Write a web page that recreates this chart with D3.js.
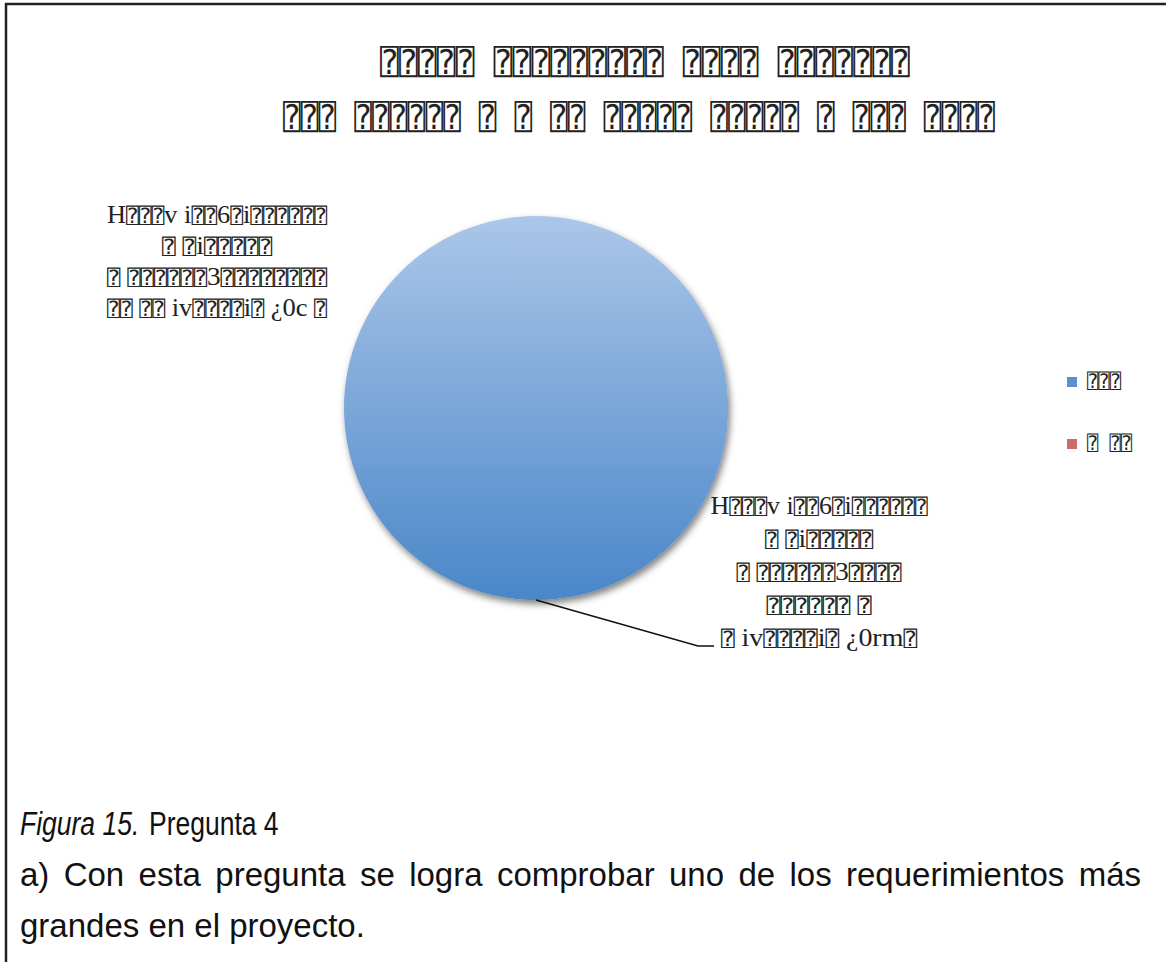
<!DOCTYPE html>
<html><head><meta charset="utf-8">
<script src="https://cdn.jsdelivr.net/npm/d3@7"></script>
<style>
html,body{margin:0;padding:0;background:#fff;}
svg{display:block;}
</style></head>
<body>
<svg id="chart" width="1166" height="962"></svg>
<script>
// ---- data ----
const categories = ["⍰⍰⍰", "⍰ ⍰⍰"];
const values = [40, 0];
const colors = ["#4F81BD", "#C0504D"];
const titleLines = [
  "⍰⍰⍰⍰⍰ ⍰⍰⍰⍰⍰⍰⍰⍰⍰ ⍰⍰⍰⍰  ⍰⍰⍰⍰⍰⍰⍰",
  "⍰⍰⍰ ⍰⍰⍰⍰⍰⍰  ⍰ ⍰ ⍰⍰ ⍰⍰⍰⍰⍰ ⍰⍰⍰⍰⍰ ⍰ ⍰⍰⍰ ⍰⍰⍰⍰"
];
const labelLinesNO = [
  "H⍰⍰⍰v  i⍰⍰6⍰i⍰⍰⍰⍰⍰⍰",
  "⍰ ⍰i⍰⍰⍰⍰⍰",
  "⍰ ⍰⍰⍰⍰⍰⍰3⍰⍰⍰⍰⍰⍰⍰⍰",
  "⍰⍰ ⍰⍰ iv⍰⍰⍰⍰i⍰ ¿0c ⍰"
];
const labelLinesSI = [
  "H⍰⍰⍰v  i⍰⍰6⍰i⍰⍰⍰⍰⍰⍰",
  "⍰ ⍰i⍰⍰⍰⍰⍰",
  "⍰ ⍰⍰⍰⍰⍰⍰3⍰⍰⍰⍰",
  "⍰⍰⍰⍰⍰⍰ ⍰",
  "⍰ iv⍰⍰⍰⍰i⍰ ¿0rm⍰"
];
const captionItalic = "Figura 15.";
const captionRest = "Pregunta 4";
const paragraphLine1 = "a) Con esta pregunta se logra comprobar uno de los requerimientos más";
const paragraphLine2 = "grandes en el proyecto.";

// ---- drawing ----
const svg = d3.select("#chart");
const defs = svg.append("defs");
const grad = defs.append("linearGradient").attr("id","blueGrad")
  .attr("x1",0).attr("y1",0).attr("x2",0).attr("y2",1);
grad.append("stop").attr("offset","0%").attr("stop-color","#abc6e8");
grad.append("stop").attr("offset","100%").attr("stop-color","#4a87c9");
const gradR = defs.append("linearGradient").attr("id","redGrad")
  .attr("x1",0).attr("y1",0).attr("x2",0).attr("y2",1);
gradR.append("stop").attr("offset","0%").attr("stop-color","#e6a9a8");
gradR.append("stop").attr("offset","100%").attr("stop-color","#c0504d");
const shadow = defs.append("filter").attr("id","shadow")
  .attr("x","-20%").attr("y","-20%").attr("width","140%").attr("height","140%");
shadow.append("feDropShadow").attr("dx",2).attr("dy",4).attr("stdDeviation",3.5)
  .attr("flood-color","#000").attr("flood-opacity",0.5);

// frame
svg.append("line").attr("x1",6).attr("y1",3).attr("x2",6).attr("y2",962)
  .attr("stroke","#222").attr("stroke-width",2.5);
svg.append("line").attr("x1",5).attr("y1",4).attr("x2",1166).attr("y2",4)
  .attr("stroke","#222").attr("stroke-width",2.5);

const boxFont = "'DejaVu Sans Mono','DejaVu Sans',sans-serif";

// title
const titleY = [74, 129];
const titleX = [[380, 910], [283, 995]];
titleLines.forEach((t,i)=>{
  svg.append("text").attr("x",titleX[i][0]).attr("y",titleY[i])
    .attr("textLength",titleX[i][1]-titleX[i][0]).attr("lengthAdjust","spacingAndGlyphs")
    .attr("font-family",boxFont).attr("font-size",34).attr("fill","#222")
    .text(t);
});

// pie
const cx = 536, cy = 408, r = 192;
const pie = d3.pie().sort(null).value(d=>d)(values);
const arc = d3.arc().innerRadius(0).outerRadius(r);
const g = svg.append("g").attr("transform",`translate(${cx},${cy})`);
g.selectAll("path").data(pie).join("path")
  .attr("d",arc)
  .attr("fill",(d,i)=> i===0 ? "url(#blueGrad)" : "url(#redGrad)")
  .attr("filter","url(#shadow)");

// labels
function mixedText(sel, str){
  let cur = null, buf = "";
  const flush = ()=>{
    if(!buf) return;
    sel.append("tspan").attr("font-family", cur==="box"?boxFont:"'Liberation Serif','Times New Roman',serif")
      .attr("font-size", cur==="box"?21:26).text(buf);
    buf="";
  };
  for(const ch of str){
    const k = ch==="⍰" ? "box" : "lat";
    if(k!==cur){ flush(); cur=k; }
    buf+=ch;
  }
  flush();
}
function drawLabel(lines, centerX, firstY, step, widths){
  lines.forEach((t,i)=>{
    const txt = svg.append("text").attr("x",centerX).attr("y",firstY+i*step)
      .attr("text-anchor","middle").attr("fill","#222")
      .attr("dominant-baseline","middle")
      .attr("textLength",widths[i]).attr("lengthAdjust","spacingAndGlyphs");
    mixedText(txt,t);
  });
}
drawLabel(labelLinesNO, 217, 217, 31, [220,110,220,220]);
drawLabel(labelLinesSI, 819, 508, 33, [217,108,165,105,196]);

// leader line for SI slice
const siMid = (pie[0].startAngle + pie[0].endAngle)/2;
const p0 = [cx + r*Math.sin(siMid), cy - r*Math.cos(siMid)];
svg.append("polyline")
  .attr("points",[[p0[0],p0[1]],[698,646],[714,646]].map(p=>p.join(",")).join(" "))
  .attr("fill","none").attr("stroke","#111").attr("stroke-width",1.5);

// legend
const legY = [382, 444];
const legTextW = [34, 45];
categories.forEach((c,i)=>{
  svg.append("rect").attr("x",1067).attr("y",legY[i]-5).attr("width",10).attr("height",10)
    .attr("fill", i===0 ? "#5b8fcf" : "#d06a68");
  svg.append("text").attr("x",1087).attr("y",legY[i]).attr("dominant-baseline","middle")
    .attr("textLength",legTextW[i]).attr("lengthAdjust","spacingAndGlyphs")
    .attr("font-family",boxFont).attr("font-size",20).attr("fill","#222").text(c);
});

// caption (narrow glyphs: smaller font stretched vertically)
const sans = "'Liberation Sans',Arial,sans-serif";
svg.append("text").attr("transform","translate(20,835) scale(1,1.25)")
  .attr("font-family",sans).attr("font-size",26.5).attr("fill","#111")
  .attr("font-style","italic")
  .text(captionItalic);
svg.append("text").attr("transform","translate(149,835) scale(1,1.25)")
  .attr("font-family",sans).attr("font-size",26.5).attr("fill","#111")
  .text(captionRest);

// justified paragraph line
const words = paragraphLine1.split(" ");
const left = 20, right = 1141;
const wsel = svg.append("g").selectAll("text").data(words).join("text")
  .attr("y",886).attr("font-family",sans)
  .attr("font-size",33).attr("fill","#111").text(d=>d);
const wl = wsel.nodes().map(n=>n.getComputedTextLength());
const gap = (right-left - d3.sum(wl))/(words.length-1);
let xx = left;
wsel.attr("x",(d,i)=>{ const v = xx; xx += wl[i]+gap; return v; });

svg.append("text").attr("x",20).attr("y",937)
  .attr("font-family",sans).attr("font-size",33).attr("fill","#111")
  .text(paragraphLine2);
</script>
</body></html>
